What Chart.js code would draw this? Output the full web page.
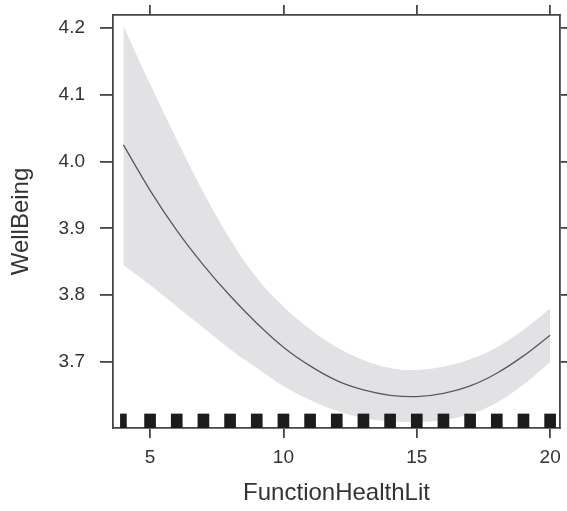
<!DOCTYPE html>
<html>
<head>
<meta charset="utf-8">
<script src="https://cdn.jsdelivr.net/npm/chart.js@4"></script>
<style>
html,body{margin:0;padding:0;background:#fff;}
#wrap{width:567px;height:511px;}
</style>
</head>
<body>
<div id="wrap"><canvas id="c" width="567" height="511"></canvas></div>
<script>
// ---- data ----
const xValues = [4,5,6,7,8,9,10,11,12,13,14,15,16,17,18,19,20];
const fitValues = [4.025,3.957,3.897,3.845,3.799,3.758,3.722,3.694,3.672,3.658,3.650,3.648,3.653,3.664,3.683,3.709,3.740];
const upperValues = [4.203,4.116,4.033,3.954,3.884,3.826,3.783,3.749,3.722,3.703,3.691,3.688,3.693,3.704,3.722,3.748,3.780];
const lowerValues = [3.845,3.815,3.783,3.751,3.719,3.691,3.664,3.643,3.627,3.616,3.611,3.610,3.613,3.622,3.639,3.666,3.700];
const rugThin = [4];
const rugX = [5,6,7,8,9,10,11,12,13,14,15,16,17,18,19,20];
const xTicks = [5,10,15,20];
const yTicks = [3.7,3.8,3.9,4.0,4.1,4.2];
const xLabel = 'FunctionHealthLit';
const yLabel = 'WellBeing';

const X_MIN = 3.61, X_MAX = 20.37, Y_MIN = 3.601, Y_MAX = 4.2195;
const RUG_LEN = 0.021;

const pts = (ys) => xValues.map((x,i)=>({x:x, y:ys[i]}));
const rug = (xs) => xs.map(x=>({x:x, y:[Y_MIN, Y_MIN+RUG_LEN]}));

const axisColor = '#454545';
const textColor = '#333333';
const fam = "'Liberation Sans', Arial, Helvetica, sans-serif";

function setTicks(vals){ return function(scale){ scale.ticks = vals.map(v=>({value:v})); }; }
function fitTo(prop, val){ return function(s){ s[prop] = val; s.paddingTop = 0; s.paddingBottom = 0; s.paddingLeft = 0; s.paddingRight = 0; }; }

const gridOpts = (len) => ({display:true, drawOnChartArea:false, drawTicks:true, tickLength:len, color:axisColor, lineWidth:1.8, offset:false});
const borderOpts = {display:true, color:axisColor, width:1.8};

new Chart(document.getElementById('c'), {
  type: 'line',
  data: {
    datasets: [
      {type:'line', data: pts(fitValues), borderColor:'#5a5a5a', borderWidth:1.3, pointRadius:0, fill:false, tension:0.4, order:1},
      {type:'line', data: pts(upperValues), borderWidth:0, borderColor:'rgba(0,0,0,0)', backgroundColor:'#e2e2e4', pointRadius:0, fill:'+1', tension:0.4, order:3},
      {type:'line', data: pts(lowerValues), borderWidth:0, borderColor:'rgba(0,0,0,0)', pointRadius:0, fill:false, tension:0.4, order:3},
      {type:'bar', data: rug(rugX), backgroundColor:'#1c1c1c', barThickness:11, grouped:false, order:0},
      {type:'bar', data: rug(rugThin), backgroundColor:'#1c1c1c', barThickness:6, grouped:false, order:0}
    ]
  },
  options: {
    responsive:false, animation:false, devicePixelRatio:1,
    layout:{padding:0},
    plugins:{legend:{display:false}, tooltip:{enabled:false}},
    scales:{
      x:{type:'linear', position:'bottom', min:X_MIN, max:X_MAX, offset:false,
        afterBuildTicks: setTicks(xTicks),
        afterFit: fitTo('height', 83),
        border:borderOpts,
        grid:gridOpts(10),
        ticks:{color:textColor, font:{family:fam, size:19}, padding:8, maxRotation:0},
        title:{display:true, text:xLabel, color:textColor, font:{family:fam, size:24, lineHeight:1.2}, padding:{top:0,bottom:3}}
      },
      x2:{type:'linear', position:'top', min:X_MIN, max:X_MAX, offset:false,
        afterBuildTicks: setTicks(xTicks),
        afterFit: fitTo('height', 15),
        border:borderOpts,
        grid:gridOpts(10),
        ticks:{display:false}
      },
      y:{type:'linear', position:'left', min:Y_MIN, max:Y_MAX,
        afterBuildTicks: setTicks(yTicks),
        afterFit: fitTo('width', 113),
        border:borderOpts,
        grid:gridOpts(13),
        ticks:{color:textColor, font:{family:fam, size:19}, padding:15, callback:v=>v.toFixed(1)},
        title:{display:true, text:yLabel, color:textColor, font:{family:fam, size:24, lineHeight:1.2}, padding:{top:7,bottom:0}}
      },
      y2:{type:'linear', position:'right', min:Y_MIN, max:Y_MAX,
        afterBuildTicks: setTicks(yTicks),
        afterFit: fitTo('width', 7),
        border:borderOpts,
        grid:gridOpts(10),
        ticks:{display:false}
      }
    }
  }
});
</script>
</body>
</html>
